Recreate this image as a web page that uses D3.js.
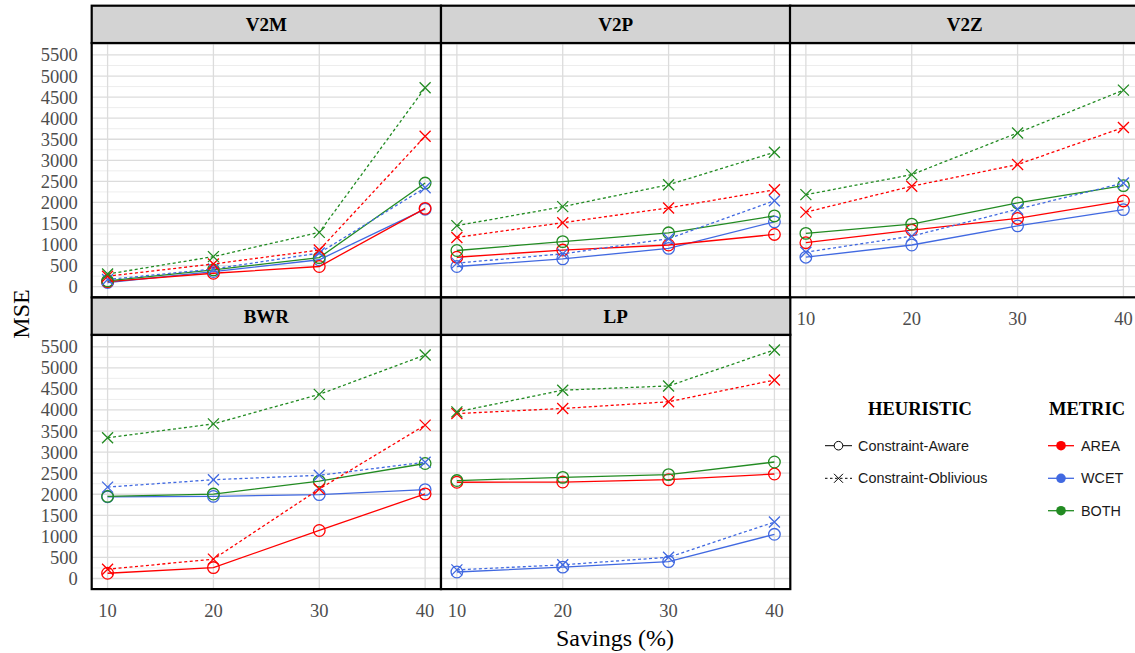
<!DOCTYPE html>
<html>
<head>
<meta charset="utf-8">
<script src="https://cdn.jsdelivr.net/npm/d3@7"></script>
<style>
  body { margin: 0; background: #fff; }
  svg { display: block; }
</style>
</head>
<body>
<div id="chart"></div>
<script>
// facets, x values and legend keys
var benchmarks = ["V2M", "V2P", "V2Z", "BWR", "LP"];
var savings = [10, 20, 30, 40];
var metrics = ["AREA", "WCET", "BOTH"];
var heuristics = ["Constraint-Aware", "Constraint-Oblivious"];
var yTicks = [0, 500, 1000, 1500, 2000, 2500, 3000, 3500, 4000, 4500, 5000, 5500];

// MSE per benchmark / heuristic, rows follow `metrics` (AREA, WCET, BOTH)
var v2mAware     = [[120, 320, 480, 1860], [100, 360, 640, 1840], [140, 400, 690, 2460]];
var v2mOblivious = [[250, 540, 870, 3570], [170, 420, 800, 2350], [300, 715, 1290, 4720]];
var v2pAware     = [[700, 870, 990, 1240], [480, 660, 910, 1540], [860, 1070, 1280, 1680]];
var v2pOblivious = [[1170, 1520, 1870, 2300], [560, 780, 1140, 2040], [1450, 1900, 2420, 3190]];
var v2zAware     = [[1045, 1345, 1620, 2035], [700, 990, 1445, 1830], [1265, 1485, 1990, 2400]];
var v2zOblivious = [[1770, 2385, 2900, 3780], [820, 1200, 1840, 2460], [2185, 2660, 3650, 4665]];
var bwrAware     = [[125, 260, 1140, 2010], [1940, 1950, 1990, 2110], [1950, 2005, 2310, 2730]];
var bwrOblivious = [[220, 460, 2125, 3640], [2170, 2345, 2450, 2760], [3340, 3670, 4370, 5305]];
var lpAware      = [[2285, 2290, 2345, 2480], [155, 270, 400, 1050], [2325, 2400, 2465, 2765]];
var lpOblivious  = [[3915, 4035, 4195, 4710], [205, 325, 505, 1340], [3955, 4470, 4570, 5425]];

var awareData = [v2mAware, v2pAware, v2zAware, bwrAware, lpAware];
var obliviousData = [v2mOblivious, v2pOblivious, v2zOblivious, bwrOblivious, lpOblivious];

var W = 1135, H = 653;
var colors = {AREA: "#ff0000", WCET: "#4169e1", BOTH: "#228b22"};
var serif = "'Liberation Serif', 'Times New Roman', serif";
var sans = "'Liberation Sans', Arial, sans-serif";

var colX = [91.7, 441, 790];
var panelW = 349.3;
var stripTop = [5.7, 297.5];
var stripH = 37.3;
var panelH = 254.3;

var svg = d3.select("#chart").append("svg")
    .attr("width", W)
    .attr("height", H);

var x = d3.scaleLinear().domain([8.5, 41.5]).range([0, panelW]);
var y = d3.scaleLinear().domain([-251, 5784]).range([panelH, 0]);

var line = d3.line()
    .x(function(d) { return x(d.s); })
    .y(function(d) { return y(d.v); });

function drawPanel(i) {
    var col = i % 3, row = Math.floor(i / 3);
    var px = colX[col], sy = stripTop[row], py = sy + stripH;
    var g = svg.append("g").attr("transform", "translate(" + px + "," + py + ")");

    g.append("rect").attr("width", panelW).attr("height", panelH).attr("fill", "#fff");

    // horizontal grid, minor then major
    var minor = d3.range(-250, 5800, 500).filter(function(v) { return v > -251 && v < 5784; });
    g.selectAll("line.minor").data(minor).enter().append("line")
        .attr("x1", 0).attr("x2", panelW)
        .attr("y1", function(d) { return y(d); }).attr("y2", function(d) { return y(d); })
        .attr("stroke", "#ebebeb").attr("stroke-width", 0.9);
    g.selectAll("line.major").data(yTicks).enter().append("line")
        .attr("x1", 0).attr("x2", panelW)
        .attr("y1", function(d) { return y(d); }).attr("y2", function(d) { return y(d); })
        .attr("stroke", "#dcdcdc").attr("stroke-width", 1.3);
    g.selectAll("line.vmajor").data(savings).enter().append("line")
        .attr("y1", 0).attr("y2", panelH)
        .attr("x1", function(d) { return x(d); }).attr("x2", function(d) { return x(d); })
        .attr("stroke", "#dcdcdc").attr("stroke-width", 1.3);

    var order = [1, 0, 2];
    heuristics.forEach(function(h, hi) {
        var src = hi == 0 ? awareData[i] : obliviousData[i];
        order.forEach(function(mi) {
            var m = metrics[mi];
            var pts = savings.map(function(s, k) { return {s: s, v: src[mi][k]}; });
            g.append("path").datum(pts)
                .attr("d", line)
                .attr("fill", "none")
                .attr("stroke", colors[m])
                .attr("stroke-width", 1.3)
                .attr("stroke-dasharray", hi == 0 ? null : "3,2.5");
            if (hi == 0) {
                g.selectAll(null).data(pts).enter().append("circle")
                    .attr("cx", function(d) { return x(d.s); })
                    .attr("cy", function(d) { return y(d.v); })
                    .attr("r", 5.8)
                    .attr("fill", "none")
                    .attr("stroke", colors[m])
                    .attr("stroke-width", 1.3);
            } else {
                g.selectAll(null).data(pts).enter().append("path")
                    .attr("transform", function(d) { return "translate(" + x(d.s) + "," + y(d.v) + ")"; })
                    .attr("d", "M-5.5,-5.5L5.5,5.5M-5.5,5.5L5.5,-5.5")
                    .attr("fill", "none")
                    .attr("stroke", colors[m])
                    .attr("stroke-width", 1.3);
            }
        });
    });

    g.append("rect").attr("width", panelW).attr("height", panelH)
        .attr("fill", "none").attr("stroke", "#000").attr("stroke-width", 2.2);

    // strip
    svg.append("rect")
        .attr("x", px).attr("y", sy).attr("width", panelW).attr("height", stripH)
        .attr("fill", "#d3d3d3").attr("stroke", "#000").attr("stroke-width", 2.2);
    svg.append("text")
        .attr("x", px + panelW / 2).attr("y", sy + stripH / 2)
        .attr("dy", "0.35em")
        .attr("text-anchor", "middle")
        .attr("font-family", serif).attr("font-weight", "bold")
        .attr("font-size", 19)
        .text(benchmarks[i]);

    // y axis labels on first column
    if (col == 0) {
        g.selectAll("text.ytick").data(yTicks).enter().append("text")
            .attr("x", -14).attr("y", function(d) { return y(d); })
            .attr("dy", "0.35em")
            .attr("text-anchor", "end")
            .attr("font-family", serif).attr("font-size", 18.5)
            .attr("fill", "#4d4d4d")
            .text(function(d) { return d; });
    }
    // x axis labels where nothing sits below
    if (row == 1 || i + 3 >= benchmarks.length) {
        g.selectAll("text.xtick").data(savings).enter().append("text")
            .attr("x", function(d) { return x(d); }).attr("y", panelH + 21)
            .attr("dy", "0.35em")
            .attr("text-anchor", "middle")
            .attr("font-family", serif).attr("font-size", 18.5)
            .attr("fill", "#4d4d4d")
            .text(function(d) { return d; });
    }
}

benchmarks.forEach(function(b, i) { drawPanel(i); });

// axis titles
svg.append("text")
    .attr("transform", "translate(21,314) rotate(-90)")
    .attr("text-anchor", "middle").attr("dy", "0.35em")
    .attr("font-family", serif).attr("font-size", 24)
    .text("MSE");
svg.append("text")
    .attr("x", 615).attr("y", 638).attr("dy", "0.35em")
    .attr("text-anchor", "middle")
    .attr("font-family", serif).attr("font-size", 24)
    .text("Savings (%)");

// legends
var legY = [445.7, 478.3, 510.7];
var lg = svg.append("g");
lg.append("text").attr("x", 920).attr("y", 409).attr("dy", "0.35em")
    .attr("text-anchor", "middle")
    .attr("font-family", serif).attr("font-weight", "bold").attr("font-size", 18.5)
    .text("HEURISTIC");
lg.append("text").attr("x", 1087).attr("y", 409).attr("dy", "0.35em")
    .attr("text-anchor", "middle")
    .attr("font-family", serif).attr("font-weight", "bold").attr("font-size", 18.5)
    .text("METRIC");

heuristics.forEach(function(h, hi) {
    var cy = legY[hi];
    lg.append("line").attr("x1", 825).attr("x2", 852).attr("y1", cy).attr("y2", cy)
        .attr("stroke", "#000").attr("stroke-width", 1)
        .attr("stroke-dasharray", hi == 0 ? null : "2.5,2.5");
    if (hi == 0) {
        lg.append("circle").attr("cx", 838.5).attr("cy", cy).attr("r", 4.3)
            .attr("fill", "#fff").attr("stroke", "#000").attr("stroke-width", 1);
    } else {
        lg.append("path").attr("transform", "translate(838.5," + cy + ")")
            .attr("d", "M-4.5,-4.5L4.5,4.5M-4.5,4.5L4.5,-4.5")
            .attr("stroke", "#000").attr("stroke-width", 1);
    }
    lg.append("text").attr("x", 858).attr("y", cy).attr("dy", "0.35em")
        .attr("font-family", sans).attr("font-size", 14.4)
        .attr("fill", "#1a1a1a")
        .text(h);
});

metrics.forEach(function(m, mi) {
    var cy = legY[mi];
    lg.append("line").attr("x1", 1048).attr("x2", 1074).attr("y1", cy).attr("y2", cy)
        .attr("stroke", colors[m]).attr("stroke-width", 1.3);
    lg.append("circle").attr("cx", 1061).attr("cy", cy).attr("r", 4.8)
        .attr("fill", colors[m]);
    lg.append("text").attr("x", 1081).attr("y", cy).attr("dy", "0.35em")
        .attr("font-family", sans).attr("font-size", 14.4)
        .attr("fill", "#1a1a1a")
        .text(m);
});
</script>
</body>
</html>
